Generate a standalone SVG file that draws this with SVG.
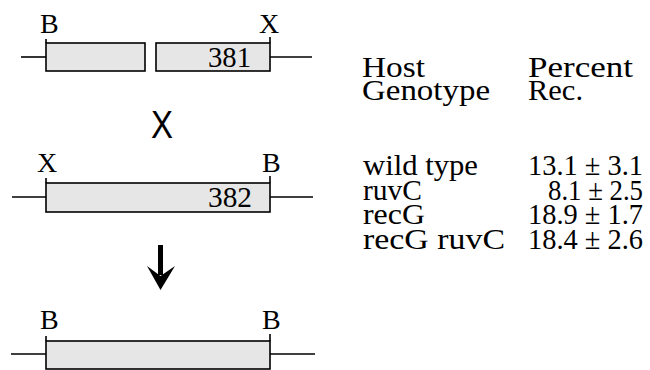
<svg xmlns="http://www.w3.org/2000/svg" width="650" height="370" viewBox="0 0 650 370">
<style>
.box{fill:#e6e6e6;stroke:#000;stroke-width:1.6}
.ln{stroke:#000;stroke-width:1.6;fill:none}
.lbl{font-family:"Liberation Serif",serif;font-size:28px;fill:#000}
.num{font-family:"Liberation Serif",serif;font-size:29px;fill:#000}
.tbl{font-family:"Liberation Serif",serif;font-size:30px;fill:#000}
</style>
<rect width="650" height="370" fill="#fff"/>
<g id="parent381">
<line class="ln" x1="21" y1="57" x2="46" y2="57"/>
<line class="ln" x1="270" y1="57" x2="312" y2="57"/>
<line class="ln" x1="46" y1="39" x2="46" y2="43"/>
<line class="ln" x1="270" y1="37" x2="270" y2="43"/>
<rect class="box" x="46" y="43" width="99" height="28"/>
<rect class="box" x="156" y="43" width="114" height="28"/>
<text class="lbl" x="40" y="33">B</text>
<text class="lbl" x="259" y="33">X</text>
<text class="num" x="251" y="67" text-anchor="end" textLength="43" lengthAdjust="spacingAndGlyphs">381</text>
</g>
<g id="cross">
<text x="162" y="138" text-anchor="middle" font-family="Liberation Sans,sans-serif" font-size="38" textLength="22" lengthAdjust="spacingAndGlyphs">X</text>
</g>
<g id="parent382">
<line class="ln" x1="12" y1="197" x2="46" y2="197"/>
<line class="ln" x1="270" y1="197" x2="313" y2="197"/>
<line class="ln" x1="46" y1="178" x2="46" y2="183"/>
<line class="ln" x1="270" y1="176" x2="270" y2="183"/>
<rect class="box" x="46" y="183" width="224" height="29"/>
<text class="lbl" x="37" y="172">X</text>
<text class="lbl" x="262" y="172">B</text>
<text class="num" x="252" y="207" text-anchor="end" textLength="44" lengthAdjust="spacingAndGlyphs">382</text>
</g>
<g id="connectors">
<line x1="160.5" y1="245" x2="160.5" y2="275" stroke="#000" stroke-width="5"/>
<path d="M160.5,290 L147,266 L160.5,276 L175,266 Z" fill="#000"/>
</g>
<g id="product">
<line class="ln" x1="11" y1="354" x2="46" y2="354"/>
<line class="ln" x1="270" y1="354" x2="315" y2="354"/>
<line class="ln" x1="46" y1="336" x2="46" y2="341"/>
<line class="ln" x1="270" y1="334" x2="270" y2="341"/>
<rect class="box" x="46" y="341" width="224" height="28"/>
<text class="lbl" x="40" y="329">B</text>
<text class="lbl" x="262" y="329">B</text>
</g>
<g id="table">
<text class="tbl" x="362" y="77" textLength="63" lengthAdjust="spacingAndGlyphs">Host</text>
<text class="tbl" x="362" y="100" textLength="128" lengthAdjust="spacingAndGlyphs">Genotype</text>
<text class="tbl" x="528" y="77" textLength="105" lengthAdjust="spacingAndGlyphs">Percent</text>
<text class="tbl" x="528" y="100" textLength="55" lengthAdjust="spacingAndGlyphs">Rec.</text>
<text class="tbl" x="363" y="175" textLength="115" lengthAdjust="spacingAndGlyphs">wild type</text>
<text class="tbl" x="363" y="200" textLength="59" lengthAdjust="spacingAndGlyphs">ruvC</text>
<text class="tbl" x="363" y="224" textLength="62" lengthAdjust="spacingAndGlyphs">recG</text>
<text class="tbl" x="363" y="249" textLength="142" lengthAdjust="spacingAndGlyphs">recG ruvC</text>
<text class="tbl" x="643" y="175" text-anchor="end" textLength="115" lengthAdjust="spacingAndGlyphs">13.1 ± 3.1</text>
<text class="tbl" x="643" y="200" text-anchor="end" textLength="95" lengthAdjust="spacingAndGlyphs">8.1 ± 2.5</text>
<text class="tbl" x="643" y="224" text-anchor="end" textLength="115" lengthAdjust="spacingAndGlyphs">18.9 ± 1.7</text>
<text class="tbl" x="643" y="249" text-anchor="end" textLength="115" lengthAdjust="spacingAndGlyphs">18.4 ± 2.6</text>
</g>
</svg>
